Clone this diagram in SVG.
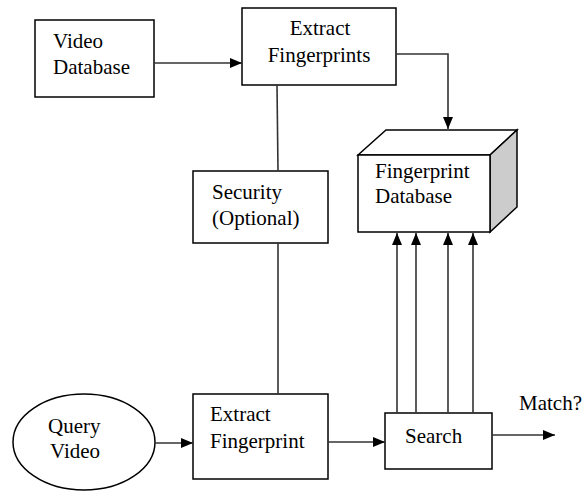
<svg xmlns="http://www.w3.org/2000/svg" width="584" height="492" viewBox="0 0 584 492" font-family="Liberation Serif">
<defs>
<marker id="ah" viewBox="0 0 12 10" refX="12" refY="5" markerWidth="12" markerHeight="10" markerUnits="userSpaceOnUse" orient="auto">
<path d="M0,0 L12,5 L0,10 Z" fill="#000"/>
</marker>
</defs>
<rect width="584" height="492" fill="#fff"/>
<g fill="#fff" stroke="#000" stroke-width="1.5">
<g id="video-db">
<rect x="35" y="20" width="119" height="77"/>
<text style="font-family:'Liberation Serif',serif;font-size:21px" fill="#000" stroke="none" x="53" y="48">Video</text>
<text style="font-family:'Liberation Serif',serif;font-size:21px" fill="#000" stroke="none" x="53" y="74">Database</text>
</g>
<g id="extract-fps">
<rect x="242" y="8" width="154" height="77"/>
<text style="font-family:'Liberation Serif',serif;font-size:21px" fill="#000" stroke="none" x="320" y="35" text-anchor="middle">Extract</text>
<text style="font-family:'Liberation Serif',serif;font-size:21px" fill="#000" stroke="none" x="319" y="62" text-anchor="middle">Fingerprints</text>
</g>
<g id="security">
<rect x="193" y="171" width="135" height="72"/>
<text style="font-family:'Liberation Serif',serif;font-size:21px" fill="#000" stroke="none" x="212" y="199">Security</text>
<text style="font-family:'Liberation Serif',serif;font-size:21px" fill="#000" stroke="none" x="212" y="225">(Optional)</text>
</g>
<g id="fp-db">
<path d="M358,155 L386,130 L517,130 L490,155 Z"/>
<path d="M490,155 L517,130 L517,207 L490,232 Z" fill="#ccc"/>
<rect x="358" y="155" width="132" height="77"/>
<text style="font-family:'Liberation Serif',serif;font-size:21px" fill="#000" stroke="none" x="375" y="178">Fingerprint</text>
<text style="font-family:'Liberation Serif',serif;font-size:21px" fill="#000" stroke="none" x="375" y="203">Database</text>
</g>
<g id="query-video">
<ellipse cx="84" cy="442" rx="71" ry="48"/>
<text style="font-family:'Liberation Serif',serif;font-size:21px" fill="#000" stroke="none" x="48" y="433">Query</text>
<text style="font-family:'Liberation Serif',serif;font-size:21px" fill="#000" stroke="none" x="50" y="458">Video</text>
</g>
<g id="extract-fp">
<rect x="193" y="394" width="135" height="85"/>
<text style="font-family:'Liberation Serif',serif;font-size:21px" fill="#000" stroke="none" x="210" y="421">Extract</text>
<text style="font-family:'Liberation Serif',serif;font-size:21px" fill="#000" stroke="none" x="210" y="448">Fingerprint</text>
</g>
<g id="search">
<rect x="385" y="413" width="107" height="56"/>
<text style="font-family:'Liberation Serif',serif;font-size:21px" fill="#000" stroke="none" x="405" y="443">Search</text>
</g>
<text style="font-family:'Liberation Serif',serif;font-size:21px" fill="#000" stroke="none" x="519" y="410">Match?</text>
</g>
<g id="connectors" fill="none" stroke="#333" stroke-width="1.6">
<path d="M154,63 L242,63" marker-end="url(#ah)"/>
<path d="M396,54 L448,54 L448,129" marker-end="url(#ah)"/>
<path d="M277,85 L278,171"/>
<path d="M278,243 L278,394"/>
<path d="M154,443 L193,443" marker-end="url(#ah)"/>
<path d="M328,442 L385,442" marker-end="url(#ah)"/>
<path d="M492,435 L555,435" marker-end="url(#ah)"/>
<path d="M397,413 L397,233" marker-end="url(#ah)"/>
<path d="M416,413 L416,233" marker-end="url(#ah)"/>
<path d="M448,413 L448,233" marker-end="url(#ah)"/>
<path d="M473,413 L473,233" marker-end="url(#ah)"/>
</g>
</svg>
